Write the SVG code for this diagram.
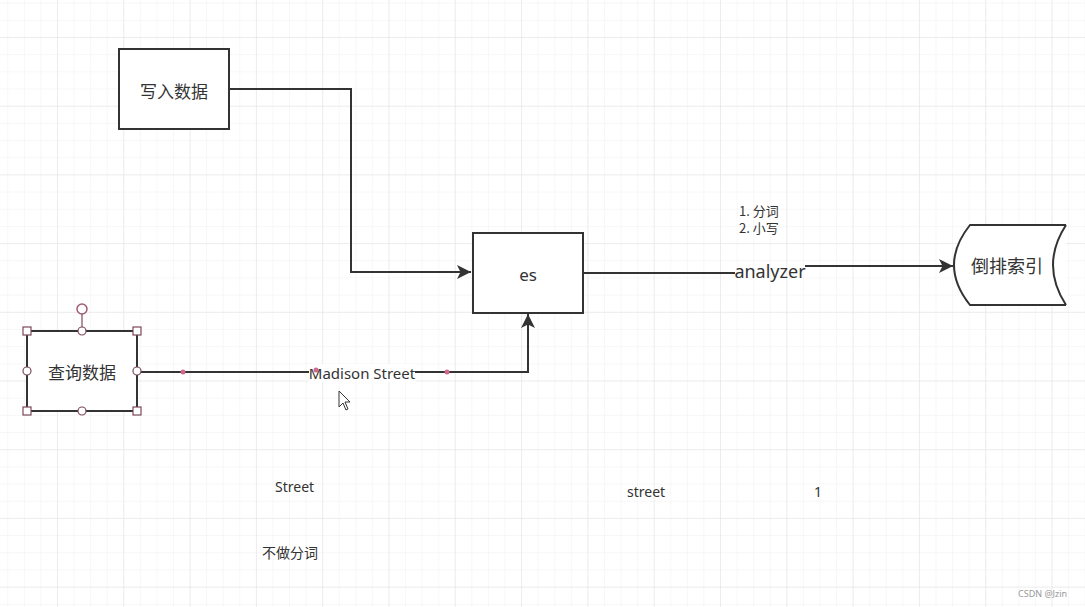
<svg xmlns="http://www.w3.org/2000/svg" width="1085" height="607" viewBox="0 0 1085 607">
<style>
.box{fill:#fff;stroke:#333;stroke-width:2}
.t{font-family:"Noto Sans","Noto Sans CJK SC",sans-serif;fill:#333}
.c{font-family:"Noto Sans CJK SC","Noto Sans",sans-serif;fill:#333}
.edge{fill:none;stroke:#333;stroke-width:2}
.h{fill:#fff;stroke:#7a4a58;stroke-width:1.2}
</style>
<defs>
<pattern id="minor" patternUnits="userSpaceOnUse" x="57" y="37" width="16.575" height="17.175">
<path d="M0 0V17.175M0 0H16.575" fill="none" stroke="#f0f0f0" stroke-width="1"/>
</pattern>
<pattern id="major" patternUnits="userSpaceOnUse" x="57" y="37" width="66.3" height="68.7">
<path d="M0 0V68.7M0 0H66.3" fill="none" stroke="#e2e2e2" stroke-width="1"/>
</pattern>
<marker id="arrL" viewBox="0 0 10 10" refX="10" refY="5" markerWidth="14" markerHeight="14" markerUnits="userSpaceOnUse" orient="auto">
<path d="M0 0L10 5L0 10L2.5 5Z" fill="#333"/>
</marker>
</defs>
<rect width="1085" height="607" fill="#fff"/>
<rect width="1085" height="607" fill="url(#minor)"/>
<rect width="1085" height="607" fill="url(#major)"/>

<g id="connectors">
<path class="edge" d="M229 89H351V272H471" marker-end="url(#arrL)"/>
<path class="edge" d="M137 372H528V314" marker-end="url(#arrL)"/>
<path class="edge" d="M583 273H735"/>
<path class="edge" d="M805 266H953" marker-end="url(#arrL)"/>
<rect x="309" y="364" width="106" height="18" fill="#fff"/>
<text class="t" x="362" y="379" font-size="15" text-anchor="middle">Madison Street</text>
<text class="t" x="770" y="278" font-size="18" text-anchor="middle">analyzer</text>
<circle cx="183" cy="372" r="2.5" fill="#d06a8a"/>
<circle cx="316" cy="370" r="2.5" fill="#d06a8a"/>
<circle cx="447" cy="372" r="2.5" fill="#d06a8a"/>
</g>

<g id="node-write">
<rect class="box" x="119" y="49" width="110" height="80"/>
<text class="c" x="174" y="98" font-size="17" text-anchor="middle">写入数据</text>
</g>

<g id="node-es">
<rect class="box" x="473" y="233" width="110" height="80"/>
<text class="t" x="528" y="281" font-size="17" text-anchor="middle">es</text>
</g>

<g id="node-index">
<path d="M1066 225H970Q938 265 970 305H1066" fill="#fff" stroke="#333" stroke-width="2"/>
<path d="M1066 225Q1040 265 1066 305" fill="none" stroke="#333" stroke-width="2"/>
<text class="c" x="1007" y="273" font-size="18" text-anchor="middle">倒排索引</text>
</g>

<g id="node-query">
<line x1="82" y1="314" x2="82" y2="331" stroke="#7a4a58" stroke-width="1.2"/>
<rect class="box" x="27" y="331" width="110" height="80" stroke="#3a2a30"/>
<text class="c" x="82" y="379" font-size="17" text-anchor="middle">查询数据</text>
<circle cx="82" cy="309" r="5" fill="#fff" stroke="#a05a70" stroke-width="1.5"/>
<rect class="h" x="23" y="327" width="8" height="8"/>
<rect class="h" x="133" y="327" width="8" height="8"/>
<rect class="h" x="23" y="407" width="8" height="8"/>
<rect class="h" x="133" y="407" width="8" height="8"/>
<circle class="h" cx="82" cy="331" r="4"/>
<circle class="h" cx="82" cy="411" r="4"/>
<circle class="h" cx="27" cy="371" r="4"/>
<circle class="h" cx="137" cy="371" r="4"/>
</g>

<g id="notes">
<text class="c" x="739" y="216" font-size="13">1. 分词</text>
<text class="c" x="739" y="233" font-size="13">2. 小写</text>
<text class="t" x="275" y="492" font-size="14">Street</text>
<text class="t" x="627" y="497" font-size="14">street</text>
<text class="t" x="814" y="497" font-size="14">1</text>
<text class="c" x="262" y="558" font-size="14">不做分词</text>
<text class="t" x="1018" y="597" font-size="9" style="fill:#999">CSDN @Jzin</text>
</g>

<path d="M339 391V407L343 403L346 410L348 409L345 402L350 402Z" fill="#fff" stroke="#333" stroke-width="1"/>
</svg>
